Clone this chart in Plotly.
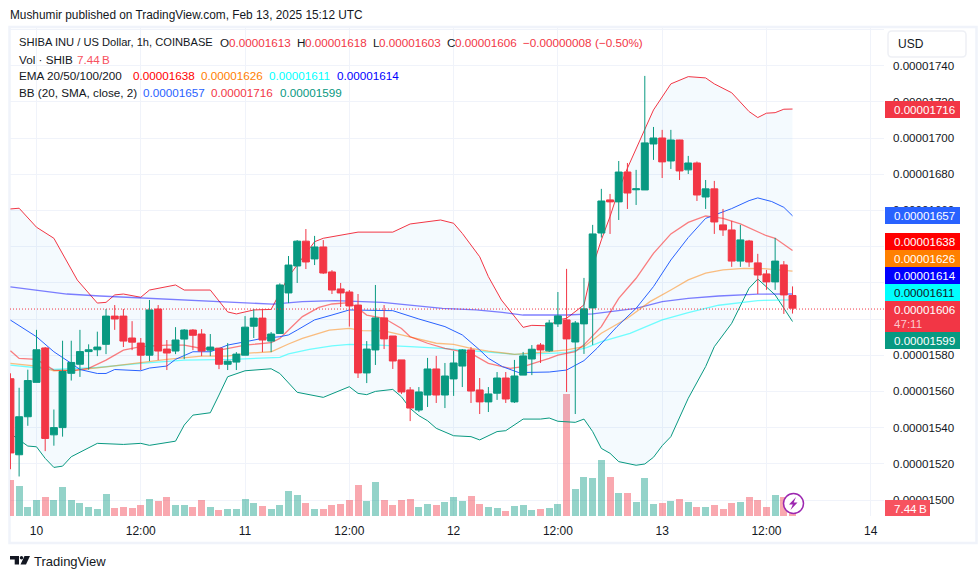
import pandas as pd
import plotly.graph_objects as go

# Prices are in units of 0.00000001 USD; hours count from 2025-02-10 00:00 UTC.
candle_hours = list(range(-3, 88))
opens = [1567,1525,1546,1565,1584,1536,1540,1570,1575,1582,1583,1586,1601.6,1601.6,1589.5,1586.7,1580,1605.5,1583.4,1582.3,
         1588.9,1593.9,1591.7,1582.8,1583.9,1575,1576.2,1580,1596,1600.5,1587.8,1592,1614.4,1629.3,1643,1633.2,1639.8,1626,1616.6,1614.9,
         1607.7,1570.2,1582.9,1600.6,1590.6,1577.4,1560.8,1549.7,1558,1572.4,1558,1566.9,1574,1582.9,1560.8,1554.2,1559,1567.4,1554.2,1569,
         1577.9,1585.6,1582.4,1597.3,1599.5,1587.3,1597.3,1606.1,1647.5,1665.8,1664.7,1681.2,1671.4,1671.3,1696.7,1700,1687.3,1698.9,1682.4,1686.2,
         1667.4,1671.9,1652,1649.2,1632,1643.1,1631,1624.9,1620.5,1629.9,1613]
highs = [1570,1562,1572,1594,1584.5,1550,1588,1588,1594,1586,1593,1605.5,1607.7,1605.5,1598.8,1589.5,1610.5,1607.7,1588.4,1595.5,
         1594.4,1594.4,1594.4,1591.7,1584,1586.7,1581.7,1601.6,1605.5,1605.5,1592.8,1619.7,1634.8,1643.6,1649.7,1645.9,1643.6,1627,1619.9,1616,
         1613.8,1587.8,1618.8,1607.7,1590.6,1577.4,1562.4,1562.4,1578.5,1579.6,1575.7,1582.3,1583.4,1584.5,1567.4,1562.4,1570.7,1570.7,1577.4,1581.8,
         1585.6,1586.7,1599.5,1614.9,1627.7,1598.9,1622.7,1652,1671.9,1669.1,1687.3,1686.2,1682.4,1734.3,1706.1,1704.5,1704.5,1699,1690.1,1687,
         1676.8,1676.3,1660.8,1654.2,1652,1643.7,1636,1627.1,1644.8,1632,1618]
lows = [1517,1513,1541,1565,1527,1530,1535,1566,1568,1572,1579.5,1580.6,1594,1584.5,1582.8,1571.8,1576.7,1577.3,1571.8,1580.6,
        1577.8,1582.8,1579.5,1579.5,1572.3,1571.8,1571.8,1580,1589.5,1581.7,1581.7,1592,1608.8,1619.9,1627.6,1629.8,1624.9,1613.8,1606.6,1595.8,
        1567.4,1564.6,1574.6,1583.4,1572.4,1558.6,1543.6,1548.6,1551.4,1553.6,1550.8,1557.5,1562.4,1553.6,1547.5,1548.6,1555.3,1553.6,1553.6,1569,
        1569,1575.7,1581.8,1595.6,1559.7,1547.5,1580.7,1585.7,1645,1647,1654.7,1660.8,1663,1671.3,1687.9,1677.9,1682.9,1676.8,1680.1,1665.2,
        1660.8,1647,1645.9,1628.8,1628.8,1628.8,1613.8,1616.1,1616.1,1602.8,1603]
closes = [1526,1546,1566,1583,1534,1540,1571,1576,1582,1583,1584.5,1601.6,1600,1587.8,1587.2,1580,1605,1582.3,1581.2,1588.4,
          1593.9,1591,1582.3,1584.5,1575,1576.7,1580.6,1595.5,1600.5,1588.4,1591.7,1618.8,1629.8,1643,1631.5,1639.8,1625.4,1616,1614.4,1607.2,
          1570.2,1583.4,1600.6,1589,1576.8,1559.7,1550.8,1559.7,1572.4,1558,1568.5,1575.7,1582.9,1560.2,1554.2,1558.6,1567.4,1555.8,1568.5,1579.6,
          1583.3,1582.9,1597.8,1601.7,1589,1597.8,1605.6,1647,1665.2,1664.7,1681.2,1669.6,1671.9,1697.3,1700,1686.8,1698.9,1681.8,1686.2,1668.5,
          1671.9,1653.6,1649.2,1632,1643.7,1631.5,1624.3,1620.5,1632,1613.3,1606]
volumes_b = [33.5,27.9,8.4,14.9,17.7,14.9,27,14.9,12.1,8.4,6.5,20.5,7.4,8.4,7.4,10.2,15.8,14,17.7,10.2,
             10.2,8.4,14.9,8.4,5.6,6.5,6.5,15.8,12.1,9.3,6.5,10.2,23.3,19.5,12.1,6.5,6.5,10.2,11.2,14.9,
             28.8,14,31.6,14.9,10.2,14.9,15.8,8.4,11.2,10.2,13,17.7,14,18.6,11.2,8.4,7.4,4.7,9.3,10.2,
             5.6,6.5,7.4,11.2,113.5,25.1,36.3,35.3,52.1,36.3,21.4,21.4,13,35.3,11.2,12.1,14,15.8,13,8.4,
             8.4,10.2,6.5,12.1,13,17.7,14.9,8.4,19.5,17.7,7.44]

bb_upper_h = [-3,-2,0,2,4.7,7,8,9,10,12,13,16,17,20,22,23,25,27,29,30,31,32,33,36,37,41,43,46.5,48,49,51,52,53.5,56,57,59,60,61,63,64,65,66,67,68,69,71,73,75,77,78,80,82,83,84,85,86,87]
bb_upper = [1660.8,1661.2,1650.7,1644.6,1621.5,1608.8,1609.2,1613.3,1613.8,1612,1616,1618.8,1616,1616,1603.9,1602.8,1605,1605.3,1623.4,1629.8,1636.3,1642.7,1644.6,1647,1648,1648,1652.5,1654.7,1652.9,1647.3,1634.4,1623.4,1610.5,1595.4,1596.5,1596.2,1599.5,1600.4,1607.8,1628.9,1643.7,1656.6,1671.3,1683.3,1694.3,1715.5,1729.9,1733.9,1733.2,1729.9,1725,1714.6,1711.3,1713.7,1714,1715.9,1716]
bb_lower_h = [-3,-2.6,-1,0,1,2,3,4,7,10,12,13,16,17,18,20,21,22,24,27,28,30,33,36,37,38,39,41,42,43,44,45,46,48,50,51,53,54,56,58,59,60,62,63,64,65,66,67,69,70,71,72,73,74,75,77,78,80,82,83,85,86,87]
bb_lower = [1538,1535.3,1529.8,1529.4,1523,1518,1518.7,1523.9,1531.3,1530.7,1531.3,1530.2,1532.5,1541.4,1546.9,1548.2,1558,1568.1,1571.4,1572.5,1569.9,1559.5,1556.7,1562.6,1558.9,1558.2,1560,1561.1,1557,1550.6,1546.6,1543.8,1539.6,1535.5,1535,1533.2,1537.8,1538.3,1544.7,1544.7,1545.3,1543.5,1542.9,1544.7,1537.8,1528.5,1525.8,1521.2,1519.2,1519.9,1523.6,1530,1535,1546,1556.2,1573.7,1584.7,1597.6,1617,1622.1,1613.3,1606,1598.6]
bb_basis_h = [-3,0,2,3,4,5,6,7,8,9,12,13,15,16,18,20,21,22,24,26,28,29,30,32,34,36,41,42.5,44,47,49,51,52,53.6,55.5,59,61,63,64.5,66.8,69,71,73,75,77,80,82,83,84.6,86,87]
bb_basis = [1599.4,1590.2,1581.9,1578.8,1575.5,1572.1,1570.9,1569.9,1569.9,1572.1,1571.4,1572.9,1574,1577.7,1581.9,1581.9,1583.7,1585.6,1587.4,1589.3,1590.2,1591.2,1593.9,1599.5,1602.2,1605,1604.6,1602.2,1600,1595.8,1591.2,1582.9,1578.3,1573.7,1570.4,1570.7,1571.8,1577,1583.8,1595.8,1605.9,1617.9,1632.6,1645,1655.6,1661,1665.4,1666.9,1664.9,1661.7,1657]

ema20_h = [-3,-2,0,2,4,6,8,10,12,15,17,19,21.5,24,27,28,29,30.6,32.5,34,36,37,38,40,42,43,45,47,50,52,54.5,56,59,60,62,63,65,67,69,71,73,75,77,79,81,84,85,87]
ema20 = [1582.5,1578.2,1577.7,1571.8,1571.4,1572.7,1577.3,1582.8,1584.7,1585.6,1585.6,1583.7,1583.2,1585.6,1586.9,1589.3,1593.9,1601.3,1606.4,1608.3,1609,1605.9,1602.2,1600.4,1594.8,1590.2,1586.6,1583.8,1581,1575.5,1572.7,1573.7,1578.3,1580.1,1582,1585.7,1595.8,1611.4,1622.5,1636.3,1647,1653.4,1656.9,1655.6,1652.5,1646,1644.6,1637.8]
ema50_h = [-3,0,2,4.6,8,11,15,19,22,24,27,29,30.6,33.7,36,37.5,40,42,44,46,48,50,52,55,59,61,63,65,68,70.6,73,75,77,79,81.4,83.7,87]
ema50 = [1575.5,1574,1571.4,1571.8,1573.6,1575.5,1577.7,1579.5,1579.5,1581,1581.9,1586.2,1589.3,1593.9,1594.8,1593.6,1593.4,1591.2,1588.8,1586.6,1586,1583.8,1582.3,1580.5,1582,1582.9,1584.7,1592.1,1600.4,1609.6,1616,1621.6,1625.3,1627.1,1628,1627.8,1626.5]
ema100_h = [-3,0,2,7,12,17,22.6,28,29,31.4,34,36,39.4,43,46.7,50.6,55,59,61,63.3,65,68.3,72,75,78.5,83,87]
ema100 = [1574.5,1573.2,1572.1,1573.2,1575.5,1577.3,1577.7,1578.8,1580.7,1583.2,1585.1,1586,1585.6,1584.7,1583.8,1582.3,1580.5,1581,1581.4,1584.2,1587.5,1592.1,1599.5,1603.5,1607.6,1610.2,1610.6]
ema200_h = [-3,0,3.5,7.3,12,17.3,22.6,27.2,30.6,34.4,39.8,43,46.7,50.6,53.6,56,59,61,64,66.8,69,72,75,78.5,83,87]
ema200 = [1617.8,1616,1613.8,1612.7,1611.7,1610.5,1609.3,1608.2,1609.6,1610.1,1609.2,1607.7,1605.9,1605,1603.7,1602.2,1602.2,1602.2,1602.8,1604.6,1605.9,1609.6,1611.4,1612.7,1613.7,1613.8]

price_ticks = [1500,1520,1540,1560,1580,1600,1620,1640,1660,1680,1700,1720,1740,1760]
price_tick_labels = ["0.00001500","0.00001520","0.00001540","0.00001560","0.00001580","0.00001600","0.00001620",
                     "0.00001640","0.00001660","0.00001680","0.00001700","0.00001720","0.00001740",""]
time_ticks = [0,12,24,36,48,60,72,84,96]
time_tick_labels = ["10","12:00","11","12:00","12","12:00","13","12:00","14"]

UP, DOWN = "#089981", "#F23645"
FONT = "Liberation Sans"
W, H = 980, 579
L, R, T, B = 10, 884, 27, 516

epoch = pd.Timestamp("2025-02-10")
def when(hours):
    return [(epoch + pd.Timedelta(hours=float(h))).strftime("%Y-%m-%d %H:%M:%S") for h in hours]
def px(x):
    return (x - L) / (R - L)
def py(y):
    return 1 - (y - T) / (B - T)

fig = go.Figure()
vol_colors = ["rgba(8,153,129,0.43)" if c >= o else "rgba(242,54,69,0.43)" for o, c in zip(opens, closes)]
fig.add_trace(go.Bar(x=when(candle_hours), y=volumes_b, marker=dict(color=vol_colors, line_width=0),
                     width=2.9e6, yaxis="y", showlegend=False, hoverinfo="skip"))

fig.add_trace(go.Scatter(x=when(bb_lower_h), y=bb_lower, mode="lines", line=dict(color=UP, width=1, shape="linear"),
                         yaxis="y2", showlegend=False, hoverinfo="skip", opacity=0.85))
fig.add_trace(go.Scatter(x=when(bb_upper_h), y=bb_upper, mode="lines", line=dict(color=DOWN, width=1),
                         fill="tonexty", fillcolor="rgba(33,150,243,0.05)",
                         yaxis="y2", showlegend=False, hoverinfo="skip"))
fig.add_trace(go.Scatter(x=when(ema200_h), y=ema200, mode="lines", line=dict(color="rgba(0,0,255,0.5)", width=1.3),
                         yaxis="y2", showlegend=False, hoverinfo="skip"))
fig.add_trace(go.Scatter(x=when(ema100_h), y=ema100, mode="lines", line=dict(color="rgba(0,255,255,0.55)", width=1.3),
                         yaxis="y2", showlegend=False, hoverinfo="skip"))
fig.add_trace(go.Scatter(x=when(ema50_h), y=ema50, mode="lines", line=dict(color="rgba(255,128,0,0.5)", width=1.3),
                         yaxis="y2", showlegend=False, hoverinfo="skip"))
fig.add_trace(go.Scatter(x=when(ema20_h), y=ema20, mode="lines", line=dict(color="rgba(255,0,0,0.5)", width=1.3),
                         yaxis="y2", showlegend=False, hoverinfo="skip"))
fig.add_trace(go.Scatter(x=when(bb_basis_h), y=bb_basis, mode="lines", line=dict(color="#2962FF", width=1),
                         yaxis="y2", showlegend=False, hoverinfo="skip"))

fig.add_trace(go.Candlestick(x=when(candle_hours), open=opens, high=highs, low=lows, close=closes,
                             increasing=dict(line=dict(color=UP, width=1), fillcolor=UP),
                             decreasing=dict(line=dict(color=DOWN, width=1), fillcolor=DOWN),
                             whiskerwidth=0, yaxis="y3", showlegend=False, hoverinfo="skip"))

pmin, pmax = 1700 + (138 - B) / 1.81, 1700 + (138 - T) / 1.81
text = []
def label(x, y, s, color="#131722", size=11.7):
    text.append(dict(xref="paper", yref="paper", x=px(x - 1.5), y=py(y), text=s, showarrow=False, xanchor="left",
                     yanchor="middle", borderpad=0, align="left", font=dict(family=FONT, size=size, color=color)))

label(10.5, 15, "Mushumir published on TradingView.com, Feb 13, 2025 15:12 UTC", "#131722", 11.85)
label(19, 42, "SHIBA INU / US Dollar, 1h, COINBASE", "#131722", 11.15)
for x, s in [(220.5, "O"), (297, "H"), (373, "L"), (447.5, "C")]:
    label(x, 42, s)
for x, s in [(229, "0.00001613"), (305, "0.00001618"), (379, "0.00001603"), (455, "0.00001606"),
             (523, "−0.00000008"), (595, "(−0.50%)")]:
    label(x, 42, s, DOWN)
label(19, 59, "Vol · SHIB")
label(77, 59, "7.44\u2009B", "#F7525F")
label(19, 75.5, "EMA 20/50/100/200")
label(133, 75.5, "0.00001638", "#FF0000")
label(201, 75.5, "0.00001626", "#FF8000")
label(269, 75.5, "0.00001611", "#00FFFF")
label(337, 75.5, "0.00001614", "#0000FF")
label(19, 92.5, "BB (20, SMA, close, 2)")
label(143, 92.5, "0.00001657", "#2962FF")
label(211, 92.5, "0.00001716", DOWN)
label(280, 92.5, "0.00001599", UP)
label(34.5, 561, "TradingView", "#131722", 13)
label(898, 44, "USD", "#131722", 12)

shapes = [
    dict(type="rect", xref="paper", yref="paper", x0=px(9.5), x1=px(976.5), y0=py(27), y1=py(543),
         line=dict(color="#F0F3FA", width=2.5), fillcolor="rgba(0,0,0,0)", layer="below"),
    dict(type="line", xref="paper", yref="y2", x0=0, x1=1, y0=1605.5, y1=1605.5,
         line=dict(color=DOWN, width=1, dash="1px,2px"), layer="above"),
]
boxes = [(101, 118, DOWN, ["0.00001716"], "#FFFFFF"), (207, 224, "#2962FF", ["0.00001657"], "#FFFFFF"),
         (233, 250, "#FF0000", ["0.00001638"], "#FFFFFF"), (250, 267, "#FF8000", ["0.00001626"], "#FFFFFF"),
         (267, 284, "#0000FF", ["0.00001614"], "#FFFFFF"), (284, 301, "#00FFFF", ["0.00001611"], "#131722"),
         (332, 349, UP, ["0.00001599"], "#FFFFFF")]
for y0, y1, col, lines, tc in boxes:
    shapes.append(dict(type="rect", xref="paper", yref="paper", x0=px(885), x1=px(960), y0=py(y0), y1=py(y1),
                       fillcolor=col, line_width=0, layer="above"))
    label(894, (y0 + y1) / 2, lines[0], tc, 11.6)
shapes.append(dict(type="rect", xref="paper", yref="paper", x0=px(885), x1=px(960), y0=py(301), y1=py(332),
                   fillcolor=DOWN, line_width=0, layer="above"))
label(894, 309.5, "0.00001606", "#FFFFFF", 11.6)
label(894, 323.5, "47:11", "#FBC9CD", 11.6)
shapes.append(dict(type="rect", xref="paper", yref="paper", x0=px(885), x1=px(930), y0=py(500), y1=py(516),
                   fillcolor="#F7525F", line_width=0, layer="above"))
label(894, 508, "7.44\u2009B", "#FFFFFF", 11.6)

def poly(points, **kw):
    d = "M" + "L".join(f"{px(x):.5f},{py(y):.5f}" for x, y in points) + "Z"
    return dict(type="path", xref="paper", yref="paper", path=d, layer="above", **kw)

# USD button
x0, x1, y0, y1, r = 888, 966, 31, 57, 4
shapes.append(dict(type="path", xref="paper", yref="paper", layer="above", fillcolor="#FFFFFF",
                   line=dict(color="#EEF0F5", width=1.5),
                   path=(f"M{px(x0+r)},{py(y0)}L{px(x1-r)},{py(y0)}Q{px(x1)},{py(y0)} {px(x1)},{py(y0+r)}"
                         f"L{px(x1)},{py(y1-r)}Q{px(x1)},{py(y1)} {px(x1-r)},{py(y1)}L{px(x0+r)},{py(y1)}"
                         f"Q{px(x0)},{py(y1)} {px(x0)},{py(y1-r)}L{px(x0)},{py(y0+r)}Q{px(x0)},{py(y0)} {px(x0+r)},{py(y0)}Z")))
# lightning badge
shapes.append(dict(type="circle", xref="paper", yref="paper", layer="above", x0=px(783.5), x1=px(803.5),
                   y0=py(493.5), y1=py(513.5), fillcolor="#FFFFFF", line=dict(color="#9C27B0", width=1.5)))
shapes.append(poly([(796, 497), (789, 504.5), (792.8, 504.5), (790.5, 510), (797.5, 502.5), (793.7, 502.5)],
                   fillcolor="#9C27B0", line_width=0))
# TradingView logo
shapes.append(poly([(10, 556), (19, 556), (19, 564.5), (14.7, 564.5), (14.7, 559.6), (10, 559.6)], fillcolor="#131722", line_width=0))
shapes.append(dict(type="circle", xref="paper", yref="paper", layer="above", x0=px(19.8), x1=px(23.2), y0=py(556), y1=py(559.4),
                   fillcolor="#131722", line_width=0))
shapes.append(poly([(24.5, 556), (30, 556), (26, 564.5), (20.5, 564.5)], fillcolor="#131722", line_width=0))

price_axis = dict(range=[pmin, pmax], overlaying="y", showgrid=False, zeroline=False, showticklabels=False,
                  ticks="", fixedrange=True)
fig.update_layout(
    width=W, height=H, autosize=False, paper_bgcolor="#FFFFFF", plot_bgcolor="#FFFFFF",
    margin=dict(l=L, r=W - R, t=T, b=H - B), showlegend=False, boxgap=0.2, boxgroupgap=0,
    hovermode=False, bargap=0,
    font=dict(family=FONT, size=12, color="#131722"),
    xaxis=dict(type="date", range=when([(L - 36.5) / 8.69, (R - 36.5) / 8.69]), rangeslider=dict(visible=False),
               tickmode="array", tickvals=when(time_ticks), ticktext=time_tick_labels,
               showgrid=True, gridcolor="#F0F3FA", gridwidth=1, ticks="", showline=False, zeroline=False,
               ticklabelstandoff=6, tickfont=dict(family=FONT, size=12, color="#131722")),
    yaxis=dict(range=[0, (B - T) * 0.93], showgrid=False, zeroline=False, showticklabels=False, ticks=""),
    yaxis2=dict(range=[pmin, pmax], overlaying="y", side="right", anchor="x", tickmode="array",
                tickvals=price_ticks, ticktext=price_tick_labels, showgrid=True, gridcolor="#F0F3FA", gridwidth=1,
                zeroline=False, showline=False, ticks="", ticklabelstandoff=8,
                tickfont=dict(family=FONT, size=11.6, color="#131722")),
    yaxis3=price_axis,
    annotations=text, shapes=shapes,
)
fig.write_html("out.html", config=dict(displayModeBar=False),
               post_script="document.documentElement.style.margin='0';document.body.style.margin='0';document.body.style.overflow='hidden';")
